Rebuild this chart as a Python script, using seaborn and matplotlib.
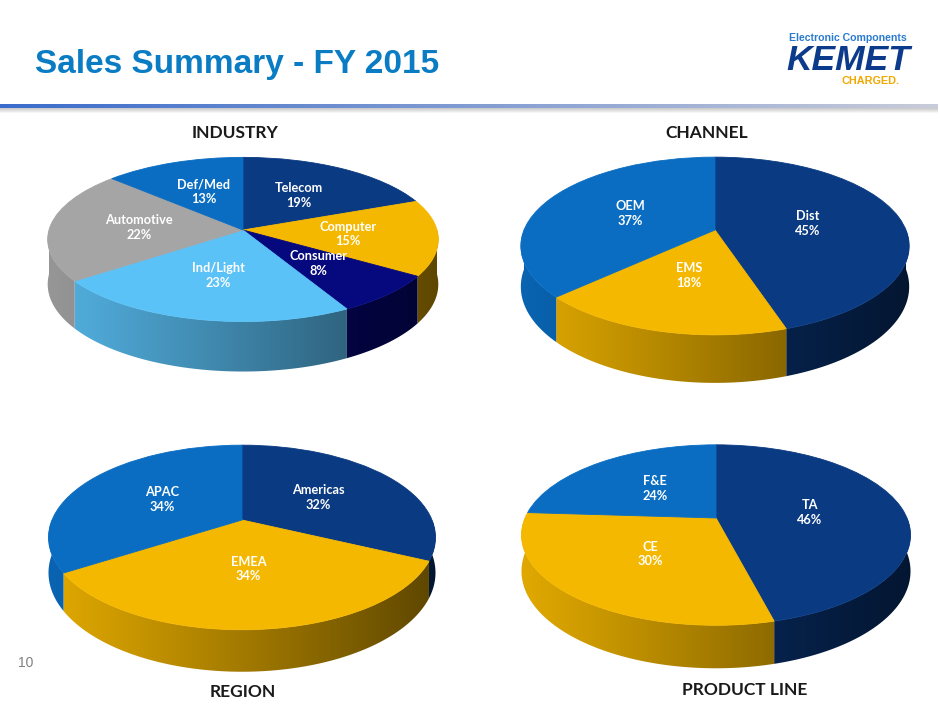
import numpy as np
import matplotlib
matplotlib.use("Agg")
import matplotlib.pyplot as plt
import matplotlib.transforms as mtransforms
from matplotlib.patches import Polygon
from matplotlib.colors import to_rgb
import seaborn as sns

sns.set_theme(style="white")
plt.rcParams["font.family"] = ["Lato", "DejaVu Sans"]

# ---------------- data ----------------
industry_labels = ["Telecom", "Computer", "Consumer", "Ind/Light", "Automotive", "Def/Med"]
industry_values = [19, 15, 8, 23, 22, 13]

channel_labels = ["Dist", "EMS", "OEM"]
channel_values = [45, 18, 37]

region_labels = ["Americas", "EMEA", "APAC"]
region_values = [32, 34, 34]

product_labels = ["TA", "CE", "F&E"]
product_values = [46, 30, 24]

NAVY, GOLD, BLUE = "#0A3A82", "#F5B800", "#0A6DC2"
LIGHT, GRAY, DEEP = "#5BC2F7", "#A5A5A5", "#06087E"
industry_colors = [NAVY, GOLD, DEEP, LIGHT, GRAY, BLUE]
channel_colors = [NAVY, GOLD, BLUE]
region_colors = [NAVY, GOLD, BLUE]
product_colors = [NAVY, GOLD, BLUE]


class Persp(mtransforms.Transform):
    """Maps unit-disk pie coordinates to a tilted (perspective) ellipse in pixel space."""
    input_dims = 2
    output_dims = 2
    is_separable = False
    has_inverse = False

    def __init__(self, cx, cy, a, b, p):
        super().__init__()
        self.cx, self.cy, self.a, self.b, self.p = cx, cy, a, b, p

    def transform_non_affine(self, pts):
        pts = np.asarray(pts, float).reshape(-1, 2)
        u, v = pts[:, 0], pts[:, 1]
        w = 1 + self.p * v
        return np.column_stack([self.cx + self.a * u / w, self.cy - self.b * v / w])


fig = plt.figure(figsize=(9.4, 7.05), dpi=100)
fig.patch.set_facecolor("white")
ax = fig.add_axes([0, 0, 1, 1])


def pie3d(values, labels, colors, cx, cy, a, b, p, d, ldist):
    T = Persp(cx, cy, a, b, p)
    vals = np.asarray(values, float)
    cum = np.concatenate([[0], np.cumsum(vals) / vals.sum()])
    # wedge boundaries in math angle, clockwise from 12 o'clock
    starts = np.pi / 2 - 2 * np.pi * cum[:-1]
    ends = np.pi / 2 - 2 * np.pi * cum[1:]
    xl, xr = cx - a * 1.05, cx + a * 1.05
    xs = np.linspace(0, 1, 300)
    shade = 0.92 - 0.55 * xs ** 1.1
    for k in range(len(vals)):
        # visible front rim: angles in [pi, 2pi]
        lo, hi = ends[k], starts[k]
        segs = []
        for off in (-2 * np.pi, 0, 2 * np.pi):
            s0, s1 = max(lo + off, np.pi), min(hi + off, 2 * np.pi)
            if s1 > s0:
                segs.append((s0, s1))
        for s0, s1 in segs:
            tt = np.linspace(s0, s1, 200)
            top = T.transform(np.column_stack([np.cos(tt), np.sin(tt)]))
            dd = d * (1 - p) / (1 + p * np.sin(tt))
            bot = top + np.column_stack([np.zeros_like(dd), dd])
            verts = np.vstack([top, bot[::-1]])
            poly = Polygon(verts, closed=True, facecolor="none", edgecolor="none",
                           transform=ax.transData)
            ax.add_patch(poly)
            base = np.array(to_rgb(colors[k]))
            img = np.clip(base[None, None, :] * shade[None, :, None], 0, 1)
            im = ax.imshow(img, extent=[xl, xr, verts[:, 1].max() + 1, verts[:, 1].min() - 1],
                           aspect="auto", interpolation="bilinear", zorder=1)
            im.set_clip_path(poly)
    txt = [f"{l}\n{v}%" for l, v in zip(labels, values)]
    wedges, texts = ax.pie(values, labels=txt, colors=colors, startangle=90,
                           counterclock=False, labeldistance=ldist,
                           wedgeprops=dict(linewidth=0.6),
                           textprops=dict(color="white", ha="center", va="center",
                                          fontsize=9.2, fontweight="bold",
                                          linespacing=1.25))
    for w in wedges:
        w.set_transform(T + ax.transData)
        w.set_edgecolor(w.get_facecolor())
        w.set_zorder(3)
    for t in texts:
        t.set_transform(T + ax.transData)
        t.set_zorder(5)


pie3d(industry_values, industry_labels, industry_colors, 243, 230, 194, 81, 0.115, 50, 0.54)
pie3d(channel_values, channel_labels, channel_colors, 715, 230, 191, 86, 0.18, 48, 0.5)
pie3d(region_values, region_labels, region_colors, 242, 520, 190, 89, 0.189, 42, 0.5)
pie3d(product_values, product_labels, product_colors, 716, 518, 191, 87, 0.189, 43, 0.5)

# section titles
sec = dict(fontsize=12.5, fontweight="bold", color="#1A1A1A", ha="center", va="center")
ax.text(235, 133, "INDUSTRY", **sec)
ax.text(707, 133, "CHANNEL", **sec)
ax.text(243, 692, "REGION", **sec)
ax.text(745, 690, "PRODUCT LINE", **sec)

# slide header
lib = ["Liberation Sans", "DejaVu Sans"]
ax.text(35, 73, "Sales Summary - FY 2015", fontsize=24, fontweight="bold",
        color="#0A7CC4", family=lib, ha="left", va="baseline")
ax.text(848, 38, "Electronic Components", fontsize=7.6, fontweight="bold",
        color="#2A7BD0", family=lib, ha="center", va="center")
ax.text(848, 70.5, "KEMET", fontsize=25.5, fontweight="bold", style="italic",
        color="#0D3B8C", family=lib, ha="center", va="baseline")
ax.text(871, 81.5, "CHARGED.", fontsize=7.8, fontweight="bold", color="#F0A800",
        family=lib, ha="center", va="center")
ax.text(18, 663, "10", fontsize=10, color="#808080", family=lib, ha="left", va="center")

# gradient rule under the header
n = 256
left = np.array(to_rgb("#3A6CCB"))
right = np.array(to_rgb("#C9CCDA"))
g = np.linspace(0, 1, n)[:, None]
bar = (left * (1 - g) + right * g)[None, :, :]
ax.imshow(bar, extent=[0, 938, 108, 104], aspect="auto", zorder=2, interpolation="bilinear")
shadow = np.ones((6, n, 4))
shadow[..., :3] = 0.55
shadow[..., 3] = np.linspace(0.45, 0.0, 6)[:, None] * np.ones((1, n))
ax.imshow(shadow, extent=[0, 938, 114, 108], aspect="auto", zorder=2, interpolation="bilinear")

ax.set_aspect("auto")
ax.set_position([0, 0, 1, 1])
ax.set_xlim(0, 940)
ax.set_ylim(705, 0)
ax.axis("off")

fig.savefig("out.png", dpi=100, facecolor="white")
